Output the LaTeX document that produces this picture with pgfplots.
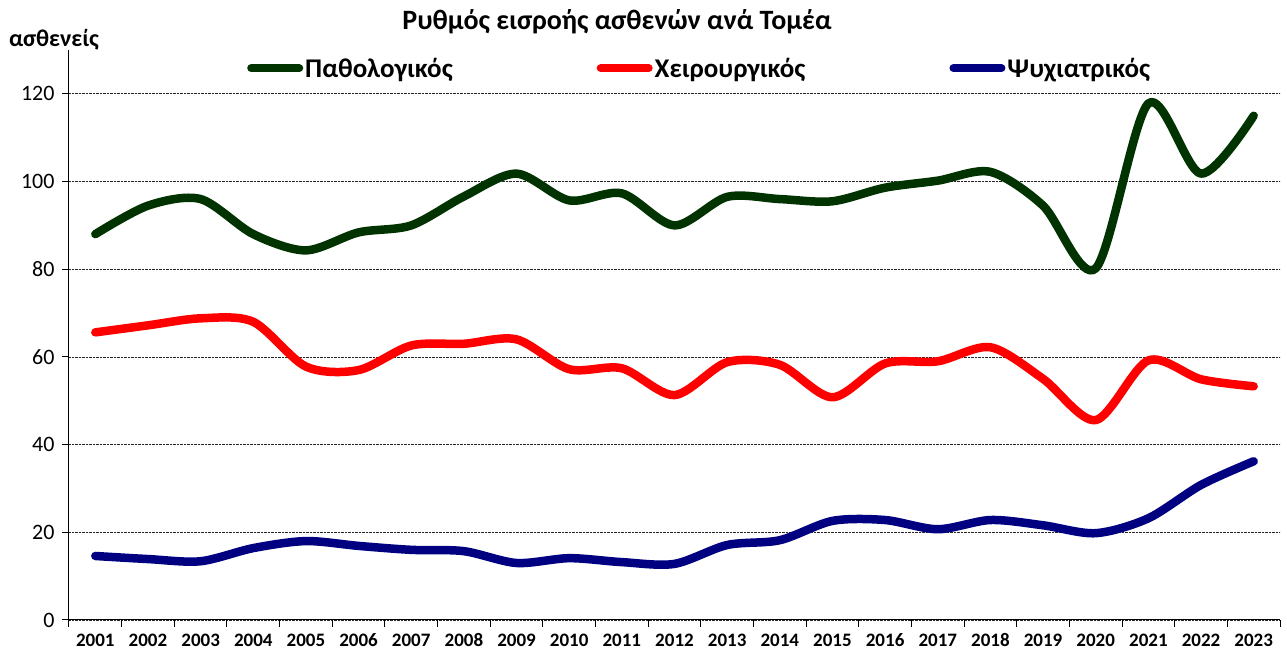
\documentclass[border=0pt]{standalone}
\usepackage{pgfplots}
\pgfplotsset{compat=1.18}
\usepackage{fontspec}
\setmainfont{Carlito}
\definecolor{cgreen}{HTML}{003300}
\definecolor{cred}{HTML}{FF0000}
\definecolor{cblue}{HTML}{000080}
\begin{document}
\begin{tikzpicture}
\begin{axis}[
  scale only axis, width=1211pt, height=570pt,
  xmin=-0.5, xmax=22.5, ymin=0, ymax=130,
  axis lines=left,
  axis line style={-, line width=1pt, black},
  xtick={0,...,22},
  xticklabels={2001,2002,2003,2004,2005,2006,2007,2008,2009,2010,2011,2012,2013,2014,2015,2016,2017,2018,2019,2020,2021,2022,2023},
  major x tick style={draw=none},
  minor xtick={-0.5,0.5,...,22.5},
  minor x tick style={black, line width=1pt},
  ytick={0,20,...,120},
  y tick style={black, line width=1pt},
  tick align=outside,
  major tick length=7pt, minor tick length=7pt,
  ymajorgrids,
  grid style={densely dotted, black!85, line width=0.7pt},
  /pgf/number format/assume math mode=true,
  xticklabel style={font=\fontsize{19}{21}\selectfont\bfseries, text height=13pt, text depth=0pt, yshift=-3pt},
  yticklabel style={font=\fontsize{22}{24}\selectfont, xshift=-4pt},
  legend columns=3,
  legend style={at={(axis description cs:0.147,0.968)}, anchor=west, draw=none, fill=none,
    inner sep=0pt, font=\fontsize{27}{30}\selectfont\bfseries,
    /tikz/every even column/.append style={column sep=142pt}},
  legend image code/.code={\draw[#1, line width=8pt, line cap=round] (0pt,0pt) -- (48pt,0pt);},
  every axis plot/.append style={line width=8.5pt, smooth, line cap=round, line join=round},
  clip=false,
]
\addplot[cgreen] coordinates {
(0,88) (1,94.5) (2,96) (3,88) (4,84.3) (5,88.4) (6,90) (7,96.6) (8,101.8) (9,95.7)
(10,97.3) (11,90) (12,96.5) (13,96) (14,95.5) (15,98.6) (16,100.2) (17,102.2) (18,94.5)
(19,80.2) (20,117.8) (21,101.8) (22,115)};
\addlegendentry{Παθολογικός}
\addplot[cred] coordinates {
(0,65.6) (1,67.2) (2,68.8) (3,68) (4,57.8) (5,57) (6,62.6) (7,63) (8,64) (9,57.2)
(10,57.4) (11,51.3) (12,58.8) (13,58.2) (14,50.8) (15,58.5) (16,59) (17,62.2) (18,55)
(19,45.6) (20,59.2) (21,54.9) (22,53.3)};
\addlegendentry{Χειρουργικός}
\addplot[cblue] coordinates {
(0,14.6) (1,13.9) (2,13.4) (3,16.4) (4,18) (5,16.9) (6,16) (7,15.7) (8,13) (9,14.1)
(10,13.2) (11,12.8) (12,17.1) (13,18.2) (14,22.6) (15,22.8) (16,20.7) (17,22.8) (18,21.6)
(19,19.8) (20,23.2) (21,30.8) (22,36.2)};
\addlegendentry{Ψυχιατρικός}
\end{axis}
\node[font=\fontsize{28}{31}\selectfont\bfseries] at (548pt,598pt) {Ρυθμός εισροής ασθενών ανά Τομέα};
\node[font=\fontsize{24}{27}\selectfont\bfseries] at (-15pt,580pt) {ασθενείς};
\pgfresetboundingbox
\path (-69pt,-35pt) rectangle (1218pt,620pt);
\end{tikzpicture}
\end{document}
